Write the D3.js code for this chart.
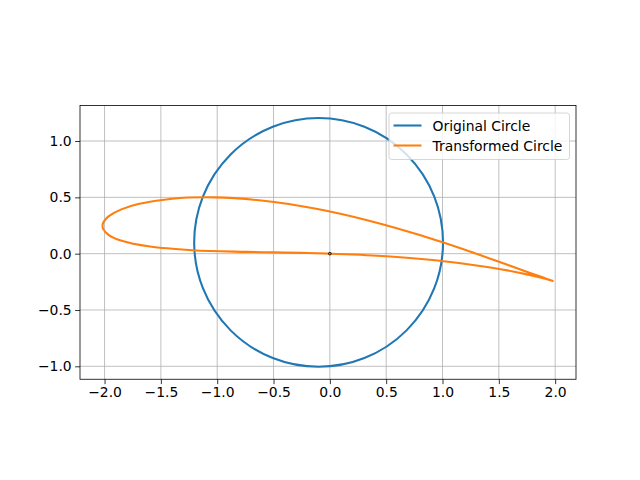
<!DOCTYPE html>
<html>
<head>
<meta charset="utf-8">
<script src="https://cdn.jsdelivr.net/npm/d3@7"></script>
<style>
  html, body { margin: 0; padding: 0; background: #fff; }
  svg { display: block; }
  text { font-family: "DejaVu Sans", sans-serif; }
</style>
</head>
<body>
<svg id="chart" width="640" height="480"></svg>
<script>
// ---- data ----
const xTicks = [-2.0, -1.5, -1.0, -0.5, 0.0, 0.5, 1.0, 1.5, 2.0];
const yTicks = [-1.0, -0.5, 0.0, 0.5, 1.0];
const seriesNames = ["Original Circle", "Transformed Circle"];
const circleCenter = [-0.1, 0.1];
const circleRadius = 1.1045;
const transformedX = [1.985, 1.976, 1.907, 1.777, 1.595, 1.242, 0.820, 0.357, -0.121, -0.588,
  -1.022, -1.400, -1.701, -1.851, -1.955, -1.989, -2.010, -2.018, -2.013, -1.962,
  -1.856, -1.596, -1.220, -0.746, -0.199, 0.379, 0.934, 1.411, 1.760, 1.905, 1.968, 1.985];
const transformedY = [-0.244, -0.241, -0.217, -0.171, -0.106, 0.019, 0.158, 0.290, 0.398, 0.470,
  0.500, 0.488, 0.440, 0.393, 0.338, 0.308, 0.279, 0.249, 0.220, 0.165,
  0.117, 0.063, 0.031, 0.016, 0.006, -0.016, -0.058, -0.120, -0.186, -0.221, -0.239, -0.244];
const originPoint = [0, 0];

(function () {
// ---- layout ----
const svg = d3.select("#chart");
const pL = 80, pR = 576, pT = 105.55, pB = 379.25;
const x = d3.scaleLinear().domain([-2.218, 2.185]).range([pL, pR]);
const y = d3.scaleLinear().domain([-1.115, 1.315]).range([pB, pT]);
const colors = ["#1f77b4", "#ff7f0e"];
const fmt = d => d3.format(".1f")(d).replace("-", "\u2212");

// grid
const grid = svg.append("g");
xTicks.forEach(t => grid.append("line")
  .attr("x1", x(t)).attr("x2", x(t)).attr("y1", pT).attr("y2", pB)
  .attr("stroke", "#b0b0b0").attr("stroke-width", 0.8));
yTicks.forEach(t => grid.append("line")
  .attr("x1", pL).attr("x2", pR).attr("y1", y(t)).attr("y2", y(t))
  .attr("stroke", "#b0b0b0").attr("stroke-width", 0.8));

// axes
const xAxis = d3.axisBottom(x).tickValues(xTicks).tickFormat(fmt).tickSize(4.86).tickPadding(3.5);
const yAxis = d3.axisLeft(y).tickValues(yTicks).tickFormat(fmt).tickSize(4.86).tickPadding(3.5);
const gx = svg.append("g").attr("transform", `translate(0,${pB})`).call(xAxis);
const gy = svg.append("g").attr("transform", `translate(${pL},0)`).call(yAxis);
[gx, gy].forEach(g => {
  g.select(".domain").remove();
  g.selectAll(".tick line").attr("stroke", "#000").attr("stroke-width", 0.8);
  g.selectAll(".tick text").attr("fill", "#000").attr("font-size", "13.9px")
    .attr("font-family", "DejaVu Sans");
});

// original circle
const rx = Math.abs(x(circleRadius) - x(0));
const ry = Math.abs(y(circleRadius) - y(0));
svg.append("ellipse")
  .attr("cx", x(circleCenter[0])).attr("cy", y(circleCenter[1]))
  .attr("rx", rx).attr("ry", ry)
  .attr("fill", "none").attr("stroke", colors[0]).attr("stroke-width", 2.08);

// transformed circle
const pts = transformedX.map((v, i) => [v, transformedY[i]]);
const line = d3.line().x(d => x(d[0])).y(d => y(d[1])).curve(d3.curveCatmullRom.alpha(0.5));
svg.append("path").attr("d", line(pts))
  .attr("fill", "none").attr("stroke", colors[1]).attr("stroke-width", 2.08)
  .attr("stroke-linejoin", "round");

// origin marker
svg.append("circle").attr("cx", x(originPoint[0])).attr("cy", y(originPoint[1])).attr("r", 1.3)
  .attr("fill", "none").attr("stroke", "#000").attr("stroke-width", 0.9);

// frame
svg.append("rect").attr("x", pL).attr("y", pT).attr("width", pR - pL).attr("height", pB - pT)
  .attr("fill", "none").attr("stroke", "#000").attr("stroke-width", 0.8);

// legend
const lg = svg.append("g");
lg.append("rect").attr("x", 389).attr("y", 113).attr("width", 180.5).attr("height", 46.5)
  .attr("rx", 2.8).attr("fill", "#fff").attr("fill-opacity", 0.8)
  .attr("stroke", "#cccccc").attr("stroke-width", 0.8);
seriesNames.forEach((name, i) => {
  const yy = 125.5 + i * 20;
  lg.append("line").attr("x1", 393.5).attr("x2", 421.5).attr("y1", yy).attr("y2", yy)
    .attr("stroke", colors[i]).attr("stroke-width", 2.08);
  lg.append("text").attr("x", 432.5).attr("y", yy + 5).attr("font-size", "13.9px")
    .attr("fill", "#000").text(name);
});
})();
</script>
</body>
</html>
